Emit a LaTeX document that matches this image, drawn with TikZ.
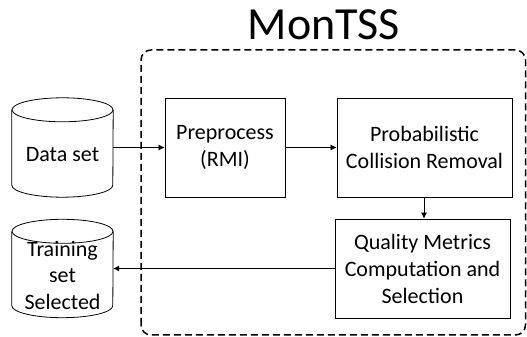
\documentclass[tikz,border=0pt]{standalone}
\usepackage{fontspec}
\setmainfont{Carlito}
\usetikzlibrary{arrows.meta,calc}
\tikzset{
  procbox/.style={draw, line width=0.8pt, align=center, font=\fontsize{22}{27}\selectfont, inner sep=0pt},
  dbbody/.style={inner sep=0pt, minimum width=101pt},
  dbtext/.style={align=center, font=\fontsize{22}{26.5}\selectfont, inner sep=0pt},
  flow/.style={line width=0.7pt, -{Latex[length=6pt,width=6pt]}},
  frame/.style={line width=1.5pt, dash pattern=on 7pt off 4pt, rounded corners=10pt}
}
\newcommand{\cylinderat}[1]{%
  \draw[line width=0.8pt] ($(#1.north west)+(0,-12pt)$) -- ($(#1.south west)+(0,12pt)$)
    arc[start angle=180, end angle=360, x radius=50.5pt, y radius=12pt]
    -- ($(#1.north east)+(0,-12pt)$);
  \draw[line width=0.8pt] ($(#1.north)+(0,-12pt)$) ellipse [x radius=50.5pt, y radius=12pt];
}
\begin{document}
\begin{tikzpicture}[x=1pt,y=1pt]
\useasboundingbox (0,0) rectangle (527,337);
% frame
\draw[frame] (141,2) rectangle (525.5,287);
\node[anchor=base, inner sep=0pt] (title) at (324,297) {\fontsize{46}{54}\selectfont MonTSS};
% processes
\node[procbox, minimum width=120pt, minimum height=99pt] (pre) at (225,189.5) {Preprocess\\(RMI)};
\node[procbox, minimum width=175pt, minimum height=99pt] (prob) at (424.5,189.5) {Probabilistic\\Collision Removal};
\node[procbox, minimum width=175pt, minimum height=99pt] (qual) at (422.5,68.5) {Quality Metrics\\Computation and\\Selection};
% databases
\node[dbbody, minimum height=99pt] (data) at (62.5,189.5) {};
\node[dbbody, minimum height=98pt] (train) at (62.5,68.5) {};
\cylinderat{data}
\cylinderat{train}
\node[dbtext] (datatext) at ($(data.center)+(0,-7pt)$) {Data set};
\node[dbtext] (traintext) at ($(train.center)+(0,-7pt)$) {Training\\set\\Selected};
% connectors
\draw[flow] (data.east |- pre.west) -- (pre.west);
\draw[flow] (pre.east) -- (prob.west);
\draw[flow] (prob.south -| 424,0) -- (424,0 |- qual.north);
\draw[flow] (qual.west) -- (train.east |- qual.west);
\end{tikzpicture}
\end{document}
